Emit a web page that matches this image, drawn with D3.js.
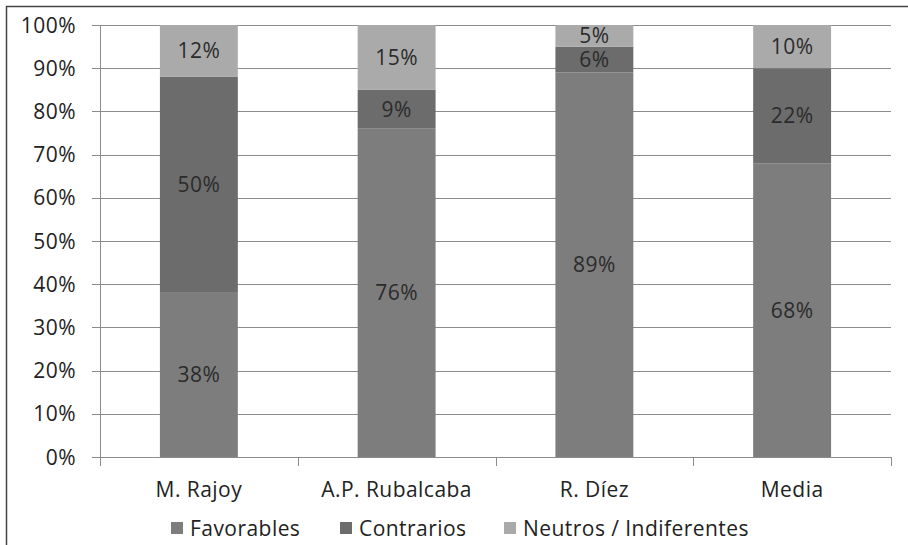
<!DOCTYPE html>
<html>
<head>
<meta charset="utf-8">
<script src="https://cdn.jsdelivr.net/npm/d3@7"></script>
<style>
  html, body { margin: 0; padding: 0; background: #fff; }
  svg { display: block; font-family: "Open Sans", Lato, sans-serif; }
  svg text { letter-spacing: 0.45px; }
</style>
</head>
<body>
<svg id="chart" width="908" height="545"></svg>
<script>
// Valoración de líderes políticos (porcentajes apilados)
const categories = ["M. Rajoy", "A.P. Rubalcaba", "R. Díez", "Media"];
const favorables = [38, 76, 89, 68];
const contrarios = [50, 9, 6, 22];
const neutros = [12, 15, 5, 10];
const seriesNames = ["Favorables", "Contrarios", "Neutros / Indiferentes"];
const seriesColors = ["#7d7d7d", "#6c6c6c", "#aaaaaa"];
const yTicks = [0, 10, 20, 30, 40, 50, 60, 70, 80, 90, 100];

const rows = categories.map((c, i) => ({
  cat: c,
  "Favorables": favorables[i],
  "Contrarios": contrarios[i],
  "Neutros / Indiferentes": neutros[i]
}));

const svg = d3.select("#chart");
const W = 908, H = 545;
const m = { left: 100, right: 17, top: 25, bottom: 88 };
const FS = 21;

// outer frame (left and top edges)
svg.append("path")
  .attr("d", `M6.5,${H} L6.5,6.5 L${W},6.5`)
  .attr("fill", "none").attr("stroke", "#444").attr("stroke-width", 1.5);

const x = d3.scaleBand().domain(categories)
  .range([m.left, W - m.right]).paddingInner(0.606).paddingOuter(0.303);
const y = d3.scaleLinear().domain([0, 100]).range([H - m.bottom, m.top]);

// gridlines
svg.append("g").selectAll("line").data(yTicks).join("line")
  .attr("x1", m.left - 8).attr("x2", W - m.right)
  .attr("y1", d => Math.round(y(d)) + 0.5).attr("y2", d => Math.round(y(d)) + 0.5)
  .attr("stroke", "#8c8c8c").attr("stroke-width", 1);

// y axis line
svg.append("line")
  .attr("x1", m.left + 0.5).attr("x2", m.left + 0.5)
  .attr("y1", y(100)).attr("y2", y(0))
  .attr("stroke", "#8c8c8c");

// y tick labels
svg.append("g").selectAll("text").data(yTicks).join("text")
  .attr("x", 76).attr("y", d => y(d))
  .attr("dy", "0.36em").attr("text-anchor", "end")
  .attr("font-size", FS).attr("fill", "#222")
  .text(d => d + "%");

// stacked bars
const stack = d3.stack().keys(seriesNames)(rows);
const layers = svg.append("g").selectAll("g").data(stack).join("g")
  .attr("fill", (d, i) => seriesColors[i]);
layers.selectAll("rect").data(d => d).join("rect")
  .attr("x", d => x(d.data.cat))
  .attr("width", x.bandwidth())
  .attr("y", d => y(d[1]))
  .attr("height", d => y(d[0]) - y(d[1]));

// data labels
layers.selectAll("text").data(d => d).join("text")
  .attr("x", d => x(d.data.cat) + x.bandwidth() / 2)
  .attr("y", d => (y(d[0]) + y(d[1])) / 2)
  .attr("dy", "0.36em").attr("text-anchor", "middle")
  .attr("font-size", FS).attr("fill", "#2b2b2b")
  .text(d => (d[1] - d[0]) + "%");

// x axis with category ticks at band boundaries
svg.append("line")
  .attr("x1", m.left).attr("x2", W - m.right)
  .attr("y1", Math.round(y(0)) + 0.5).attr("y2", Math.round(y(0)) + 0.5)
  .attr("stroke", "#8c8c8c");
const step = x.step();
const bounds = d3.range(categories.length + 1).map(i => m.left + i * step);
svg.append("g").selectAll("line").data(bounds).join("line")
  .attr("x1", d => Math.round(d) + 0.5).attr("x2", d => Math.round(d) + 0.5)
  .attr("y1", y(0)).attr("y2", y(0) + 9)
  .attr("stroke", "#8c8c8c");

// category labels
svg.append("g").selectAll("text").data(categories).join("text")
  .attr("x", d => x(d) + x.bandwidth() / 2)
  .attr("y", 497).attr("text-anchor", "middle")
  .attr("font-size", FS).attr("fill", "#222")
  .text(d => d);

// legend
const legendX = [171, 340, 504];
const lg = svg.append("g").selectAll("g").data(seriesNames).join("g")
  .attr("transform", (d, i) => `translate(${legendX[i]},522)`);
lg.append("rect").attr("width", 12).attr("height", 12)
  .attr("fill", (d, i) => seriesColors[i]);
lg.append("text").attr("x", 19).attr("y", 13.5)
  .attr("font-size", FS).attr("fill", "#222")
  .text(d => d);
</script>
</body>
</html>
